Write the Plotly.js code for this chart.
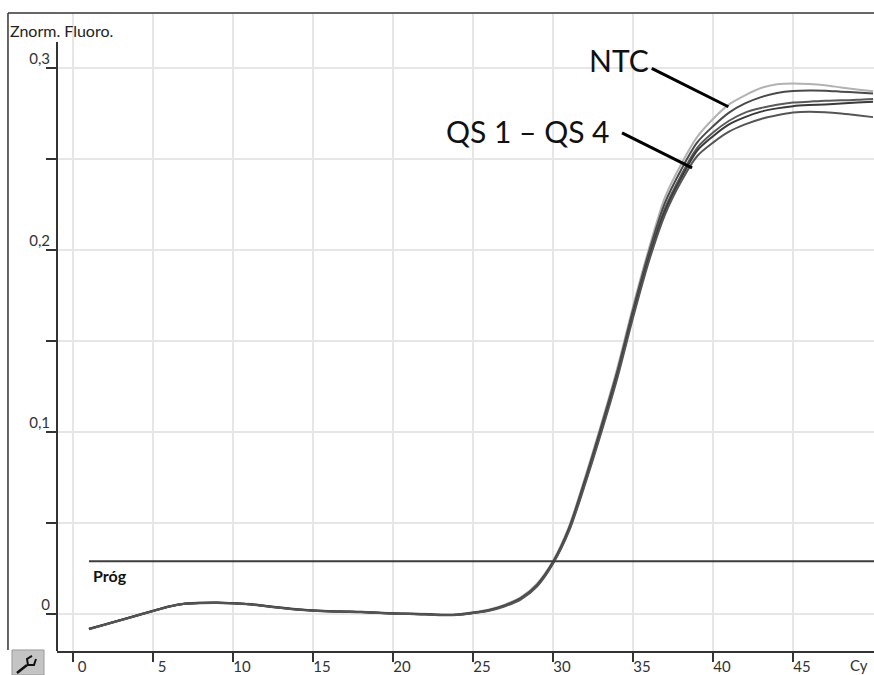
<!DOCTYPE html>
<html>
<head>
<meta charset="utf-8">
<script src="https://cdn.plot.ly/plotly-3.0.1.min.js"></script>
<style>html,body{margin:0;padding:0;background:#fff;}#chart{width:874px;height:675px;}</style>
</head>
<body>
<div id="chart"></div>
<script>
const cycles = [1,2,3,4,5,6,7,8,9,10,11,12,13,14,15,16,17,18,19,20,21,22,23,24,25,26,27,28,29,30,31,32,33,34,35,36,37,38,39,40,41,42,43,44,45,46,47,48,49,50];

const ntc = [-0.0080,-0.0056,-0.0031,-0.0006,0.0019,0.0043,0.0058,0.0063,0.0064,0.0061,0.0056,0.0046,0.0036,0.0027,0.0021,0.0017,0.0015,0.0013,0.0009,0.0005,0.0003,0.0001,-0.0003,-0.0002,0.0010,0.0025,0.0052,0.0093,0.0167,0.0293,0.0482,0.0750,0.1040,0.1345,0.1690,0.2010,0.2290,0.2470,0.2620,0.2720,0.2800,0.2850,0.2890,0.2910,0.2915,0.2912,0.2905,0.2893,0.2882,0.2872];
const qs1 = [-0.0082,-0.0057,-0.0032,-0.0007,0.0018,0.0042,0.0058,0.0062,0.0063,0.0060,0.0055,0.0045,0.0035,0.0026,0.0020,0.0016,0.0014,0.0012,0.0008,0.0004,0.0002,0.0000,-0.0004,-0.0003,0.0008,0.0023,0.0049,0.0089,0.0162,0.0287,0.0474,0.0740,0.1028,0.1330,0.1672,0.1990,0.2260,0.2440,0.2590,0.2680,0.2755,0.2805,0.2840,0.2862,0.2873,0.2876,0.2875,0.2870,0.2865,0.2860];
const qs2 = [-0.0083,-0.0058,-0.0033,-0.0008,0.0017,0.0041,0.0057,0.0061,0.0062,0.0059,0.0054,0.0044,0.0034,0.0025,0.0019,0.0015,0.0013,0.0011,0.0007,0.0003,0.0001,-0.0001,-0.0005,-0.0004,0.0007,0.0021,0.0047,0.0086,0.0158,0.0283,0.0467,0.0730,0.1015,0.1315,0.1655,0.1970,0.2230,0.2410,0.2560,0.2645,0.2710,0.2755,0.2780,0.2798,0.2810,0.2815,0.2820,0.2822,0.2825,0.2830];
const qs3 = [-0.0081,-0.0057,-0.0033,-0.0008,0.0017,0.0041,0.0056,0.0061,0.0062,0.0059,0.0054,0.0044,0.0034,0.0025,0.0019,0.0015,0.0013,0.0011,0.0007,0.0003,0.0001,-0.0001,-0.0005,-0.0004,0.0006,0.0020,0.0045,0.0084,0.0155,0.0280,0.0462,0.0722,0.1005,0.1305,0.1645,0.1958,0.2215,0.2395,0.2545,0.2625,0.2690,0.2730,0.2760,0.2778,0.2790,0.2796,0.2800,0.2805,0.2810,0.2815];
const qs4 = [-0.0084,-0.0059,-0.0034,-0.0009,0.0016,0.0040,0.0056,0.0060,0.0061,0.0058,0.0053,0.0043,0.0033,0.0024,0.0018,0.0014,0.0012,0.0010,0.0006,0.0002,0.0000,-0.0002,-0.0006,-0.0005,0.0005,0.0018,0.0043,0.0081,0.0151,0.0276,0.0455,0.0712,0.0992,0.1290,0.1628,0.1940,0.2195,0.2375,0.2515,0.2590,0.2650,0.2690,0.2720,0.2740,0.2755,0.2760,0.2757,0.2750,0.2740,0.2730];

const seriesNames = ['NTC','QS 1','QS 2','QS 3','QS 4'];
const threshold = 0.029;
const thresholdStart = 1;
const thresholdEnd = 51;

const xTickVals = [0,5,10,15,20,25,30,35,40,45];
const xTickText = ['0','5','10','15','20','25','30','35','40','45'];
const yTickVals = [0,0.05,0.1,0.15,0.2,0.25,0.3];
const yTickText = ['0','','0,1','','0,2','','0,3'];

const FONT = 'Lato, "Open Sans", "DejaVu Sans", sans-serif';
const colors = ['#b2b2b2','#4a4a4a','#5a5a5a','#3a3a3a','#555555'];
const allSeries = [ntc, qs1, qs2, qs3, qs4];

const traces = allSeries.map((s, i) => ({
  x: cycles, y: s, type: 'scatter', mode: 'lines', name: seriesNames[i],
  line: {color: colors[i], width: 2, shape: 'spline', smoothing: 0.8},
  hoverinfo: 'skip'
}));
traces.push({
  x: [thresholdStart, thresholdEnd], y: [threshold, threshold], type: 'scatter', mode: 'lines',
  name: 'Próg', line: {color: '#3d3d3d', width: 2}, hoverinfo: 'skip'
});

const layout = {
  width: 874, height: 675,
  margin: {l: 57, r: 0, t: 13, b: 24, pad: 0},
  paper_bgcolor: '#ffffff', plot_bgcolor: '#ffffff',
  showlegend: false,
  separators: ', ',
  font: {family: FONT, color: '#222'},
  xaxis: {
    range: [-1, 50.06], tickmode: 'array', tickvals: xTickVals, ticktext: xTickText,
    ticks: 'outside', ticklen: 9, tickwidth: 1.5, tickcolor: '#333',
    showline: true, linecolor: '#333', linewidth: 1.5,
    showgrid: true, gridcolor: '#e6e6e6', gridwidth: 1.5, zeroline: false,
    tickfont: {family: FONT, size: 15, color: '#333'},
    ticklabelshift: 9, ticklabelstandoff: -8
  },
  yaxis: {
    range: [-0.0203, 0.3302], tickmode: 'array', tickvals: yTickVals, ticktext: yTickText,
    ticks: 'outside', ticklen: 10, tickwidth: 1.5, tickcolor: '#333',
    showline: false, showgrid: true, gridcolor: '#e6e6e6', gridwidth: 1.5, zeroline: false,
    tickfont: {family: FONT, size: 15, color: '#333'},
    ticklabelshift: -9, ticklabelstandoff: -7
  },
  shapes: [
    {type: 'line', xref: 'paper', yref: 'paper', x0: -0.06, x1: 1, y0: 1, y1: 1, line: {color: '#333', width: 1.5}},
    {type: 'line', xref: 'paper', yref: 'paper', x0: -0.06, x1: -0.06, y0: 1, y1: 0.0016, line: {color: '#333', width: 1.5}},
    {type: 'line', xref: 'paper', yref: 'y', x0: 0, x1: 0, y0: -0.0203, y1: 0.3143, line: {color: '#333', width: 2}},
    {type: 'line', xref: 'x', yref: 'y', x0: 36.17, y0: 0.2998, x1: 40.96, y1: 0.2787, line: {color: '#000', width: 3}},
    {type: 'line', xref: 'x', yref: 'y', x0: 34.31, y0: 0.2643, x1: 38.69, y1: 0.2451, line: {color: '#000', width: 3}},
    {type: 'rect', xref: 'paper', yref: 'paper', x0: -0.0551, x1: -0.0159, y0: 0.0016, y1: -0.0376, fillcolor: '#c4c4c4', line: {color: '#9a9a9a', width: 1}},
    {type: 'path', xref: 'paper', yref: 'paper', path: 'M -0.0306,-0.0078 L -0.0367,-0.0125 L -0.0355,-0.0219 L -0.0282,-0.0219 L -0.0257,-0.0125', line: {color: '#111', width: 2}},
    {type: 'line', xref: 'paper', yref: 'paper', x0: -0.0367, y0: -0.0219, x1: -0.049, y1: -0.0345, line: {color: '#111', width: 2.5}}
  ],
  annotations: [
    {text: 'Znorm. Fluoro.', xref: 'paper', yref: 'paper', x: -0.06, y: 0.972, xanchor: 'left', yanchor: 'middle', showarrow: false, font: {family: FONT, size: 16, color: '#222'}},
    {text: 'Cy', xref: 'paper', yref: 'paper', x: 0.968, y: -0.022, xanchor: 'left', yanchor: 'middle', showarrow: false, font: {family: FONT, size: 15, color: '#333'}},
    {text: '<b>Próg</b>', xref: 'x', yref: 'y', x: thresholdStart + 0.1, y: threshold, xanchor: 'left', yanchor: 'top', yshift: -3, showarrow: false, font: {family: FONT, size: 16, color: '#111'}},
    {text: 'NTC', xref: 'x', yref: 'y', x: 34.1, y: 0.3044, xanchor: 'center', yanchor: 'middle', showarrow: false, font: {family: FONT, size: 30, color: '#111'}},
    {text: 'QS 1 – QS 4', xref: 'x', yref: 'y', x: 28.44, y: 0.2654, xanchor: 'center', yanchor: 'middle', showarrow: false, font: {family: FONT, size: 30, color: '#111'}}
  ]
};

Plotly.newPlot('chart', traces, layout, {staticPlot: true, displayModeBar: false});
</script>
</body>
</html>
